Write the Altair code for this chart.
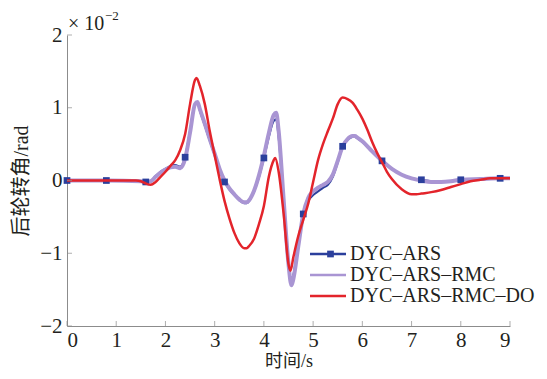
import altair as alt
import pandas as pd

# ---- data (values in units of 1e-2 rad) ----
series_names = ["DYC–ARS", "DYC–ARS–RMC", "DYC–ARS–RMC–DO"]

t_blue = [0, 0.8, 1.5, 1.6, 1.7, 1.8, 1.9, 2.0, 2.1, 2.2, 2.3, 2.4, 2.5, 2.6, 2.65, 2.7, 2.8, 2.9, 3.0,
          3.1, 3.2, 3.3, 3.4, 3.5, 3.6, 3.65, 3.7, 3.8, 3.9, 4.0, 4.1, 4.2, 4.25, 4.3, 4.4, 4.5, 4.56,
          4.6, 4.7, 4.8, 4.9, 5.0, 5.1, 5.2, 5.3, 5.4, 5.5, 5.6, 5.7, 5.8, 5.85, 5.9, 6.0, 6.2, 6.4,
          6.6, 6.8, 7.0, 7.2, 7.4, 7.6, 7.8, 8.0, 8.4, 8.8, 9.0]
v_blue = [0, 0, -0.01, -0.02, -0.01, 0.06, 0.12, 0.16, 0.2, 0.21, 0.19, 0.32, 0.68, 1.05, 1.07, 0.96,
          0.76, 0.55, 0.35, 0.15, -0.02, -0.12, -0.2, -0.27, -0.31, -0.31, -0.28, -0.15, 0.05, 0.31,
          0.6, 0.82, 0.84, 0.6, -0.3, -1.15, -1.4, -1.3, -0.85, -0.46, -0.28, -0.2, -0.15, -0.1, -0.06,
          0.05, 0.25, 0.47, 0.56, 0.6, 0.6, 0.58, 0.53, 0.4, 0.27, 0.16, 0.08, 0.03, 0.01, -0.01,
          -0.02, -0.01, 0.01, 0.02, 0.03, 0.03]

t_purple = [0, 0.8, 1.5, 1.6, 1.7, 1.8, 1.9, 2.0, 2.1, 2.2, 2.3, 2.4, 2.5, 2.6, 2.65, 2.7, 2.8, 2.9,
            3.0, 3.1, 3.2, 3.3, 3.4, 3.5, 3.6, 3.65, 3.7, 3.8, 3.9, 4.0, 4.1, 4.2, 4.25, 4.3, 4.4, 4.5,
            4.56, 4.6, 4.7, 4.8, 4.9, 5.0, 5.1, 5.2, 5.3, 5.4, 5.5, 5.6, 5.7, 5.8, 5.85, 5.9, 6.0, 6.2,
            6.4, 6.6, 6.8, 7.0, 7.2, 7.4, 7.6, 7.8, 8.0, 8.4, 8.8, 9.0]
v_purple = [0, 0, -0.01, -0.02, -0.01, 0.05, 0.11, 0.15, 0.18, 0.19, 0.17, 0.3, 0.66, 1.05, 1.08,
            0.98, 0.78, 0.57, 0.37, 0.16, 0.0, -0.11, -0.19, -0.26, -0.3, -0.3, -0.27, -0.14, 0.07,
            0.34, 0.65, 0.9, 0.93, 0.68, -0.25, -1.15, -1.44, -1.35, -0.9, -0.46, -0.24, -0.15, -0.1,
            -0.06, -0.02, 0.08, 0.27, 0.47, 0.57, 0.61, 0.61, 0.59, 0.54, 0.4, 0.27, 0.16, 0.08,
            0.03, 0.0, -0.02, -0.02, -0.01, 0.01, 0.02, 0.03, 0.03]

t_red = [0, 1.4, 1.5, 1.6, 1.7, 1.8, 1.9, 2.0, 2.1, 2.2, 2.3, 2.4, 2.5, 2.6, 2.63, 2.7, 2.8, 2.9, 3.0,
         3.1, 3.2, 3.3, 3.4, 3.5, 3.6, 3.65, 3.7, 3.8, 3.9, 4.0, 4.1, 4.2, 4.23, 4.3, 4.4, 4.5, 4.54,
         4.6, 4.7, 4.8, 4.9, 5.0, 5.1, 5.2, 5.3, 5.4, 5.5, 5.6, 5.7, 5.8, 5.9, 6.0, 6.1, 6.2, 6.3,
         6.4, 6.5, 6.6, 6.8, 7.0, 7.1, 7.2, 7.4, 7.6, 7.8, 8.0, 8.2, 8.4, 8.6, 9.0]
v_red = [0, 0, -0.01, -0.04, -0.06, -0.02, 0.05, 0.12, 0.2, 0.28, 0.42, 0.64, 1.05, 1.38, 1.41, 1.3,
         1.05, 0.68, 0.35, 0.02, -0.28, -0.52, -0.72, -0.86, -0.93, -0.93, -0.9, -0.8, -0.6, -0.35,
         0.05, 0.28, 0.31, 0.12, -0.45, -1.15, -1.24, -1.05, -0.76, -0.54, -0.32, -0.02, 0.28, 0.5,
         0.68, 0.85, 1.05, 1.14, 1.12, 1.07, 0.97, 0.85, 0.7, 0.53, 0.38, 0.25, 0.12, 0.02, -0.12,
         -0.19, -0.19, -0.18, -0.16, -0.13, -0.09, -0.05, -0.01, 0.01, 0.03, 0.03]

marker_times = [0, 0.8, 1.6, 2.4, 3.2, 4.0, 4.8, 5.6, 6.4, 7.2, 8.0, 8.8]
x_ticks = [0, 1, 2, 3, 4, 5, 6, 7, 8, 9]
y_ticks = [-2, -1, 0, 1, 2]

colors = ["#2b3f9c", "#a995d3", "#e3242b"]

# ---- tables ----
rows = []
for name, ts, vs, order in [(series_names[0], t_blue, v_blue, 0),
                            (series_names[1], t_purple, v_purple, 1),
                            (series_names[2], t_red, v_red, 2)]:
    for t, v in zip(ts, vs):
        rows.append({"t": t, "v": v, "series": name, "o": order})
df = pd.DataFrame(rows)
blue_df = df[df["o"] == 0]
markers_df = blue_df[blue_df["t"].isin(marker_times)].assign(mk=series_names[0])

serif = "Liberation Serif"
cjk = "Liberation Serif, Noto Sans CJK SC"
axis_grey = "#8c8c8c"
text_col = "#231f20"

xscale = alt.Scale(domain=[0, 9], nice=False, zero=False)
yscale = alt.Scale(domain=[-2, 2], nice=False, zero=False)

LEG_X, LEG_Y = 251, 209
sym_path = "M-3.6,0H3.6"

color = alt.Color(
    "series:N", scale=alt.Scale(domain=series_names, range=colors),
    legend=alt.Legend(orient="none", legendX=LEG_X, legendY=LEG_Y, title=None, padding=0,
                      symbolType=sym_path, symbolSize=100, symbolStrokeWidth=2.5,
                      labelFont=serif, labelFontSize=20, labelColor=text_col, labelOffset=12,
                      labelLimit=400, rowPadding=1))

shape = alt.Shape(
    "mk:N", scale=alt.Scale(domain=[series_names[0]], range=["square"]),
    legend=alt.Legend(orient="none", legendX=LEG_X + 2.5, legendY=LEG_Y, title=None, padding=0,
                      symbolSize=45, symbolFillColor=colors[0], symbolStrokeColor=colors[0],
                      symbolStrokeWidth=0, symbolOpacity=1, labelLimit=400, labelExpr="''",
                      labelFontSize=20, labelOpacity=0, labelFont=serif))

px = alt.X("t:Q", scale=xscale,
           axis=alt.Axis(values=x_ticks, ticks=False, grid=False, domainColor=axis_grey, format="d",
                         labelFont=serif, labelFontSize=21, labelColor=text_col,
                         labelPadding=3, title="时间/s", titleFont=cjk, titleFontSize=18,
                         titleFontWeight="normal", titleColor=text_col, titlePadding=2))
py = alt.Y("v:Q", scale=yscale,
           axis=alt.Axis(values=y_ticks, ticks=False, grid=False, domainColor=axis_grey, format="d",
                         labelFont=serif, labelFontSize=21, labelColor=text_col,
                         labelPadding=5, title="后轮转角/rad", titleFont=cjk, titleFontSize=20,
                         titleFontWeight="normal", titleColor=text_col, titlePadding=8))

blue_line = alt.Chart(df[df["o"] == 0]).mark_line(interpolate="monotone", strokeWidth=2.2).encode(
    x=px, y=py, color=color)
purple_line = alt.Chart(df[df["o"] == 1]).mark_line(interpolate="monotone", strokeWidth=4).encode(
    x=px, y=py, color=color)
red_line = alt.Chart(df[df["o"] == 2]).mark_line(interpolate="monotone", strokeWidth=2.5).encode(
    x=px, y=py, color=color)

marks = alt.Chart(markers_df).mark_point(filled=True, size=45, opacity=1, color=colors[0]).encode(
    x=px, y=py, shape=shape)

ytick_df = pd.DataFrame({"v": y_ticks})
xtick_df = pd.DataFrame({"t": x_ticks})
yt = alt.Chart(ytick_df).mark_tick(orient="horizontal", size=5, thickness=1, xOffset=2.5,
                                   color=axis_grey).encode(y=py, x=alt.datum(0, scale=xscale))
xt = alt.Chart(xtick_df).mark_tick(orient="vertical", size=5, thickness=1, yOffset=-2.5,
                                   color=axis_grey).encode(x=px, y=alt.datum(-2, scale=yscale))

anno_df = pd.DataFrame({"t": [0], "v": [2], "a": ["× 10"], "b": ["−2"]})
anno1 = alt.Chart(anno_df).mark_text(align="left", baseline="alphabetic", dx=1, dy=-5,
                                     font=serif, fontSize=20, color=text_col).encode(
    x=px, y=py, text="a:N")
anno2 = alt.Chart(anno_df).mark_text(align="left", baseline="alphabetic", dx=38, dy=-15,
                                     font=serif, fontSize=13, color=text_col).encode(
    x=px, y=py, text="b:N")

chart = alt.layer(blue_line, purple_line, marks, red_line, yt, xt, anno1, anno2).properties(
    width=443, height=291,
    autosize="none",
    padding={"left": 59, "top": 27, "right": 29, "bottom": 45},
).configure_view(stroke=None).configure_axis(domainWidth=1)

chart.save("out.html", embed_options={"renderer": "svg", "actions": False})
